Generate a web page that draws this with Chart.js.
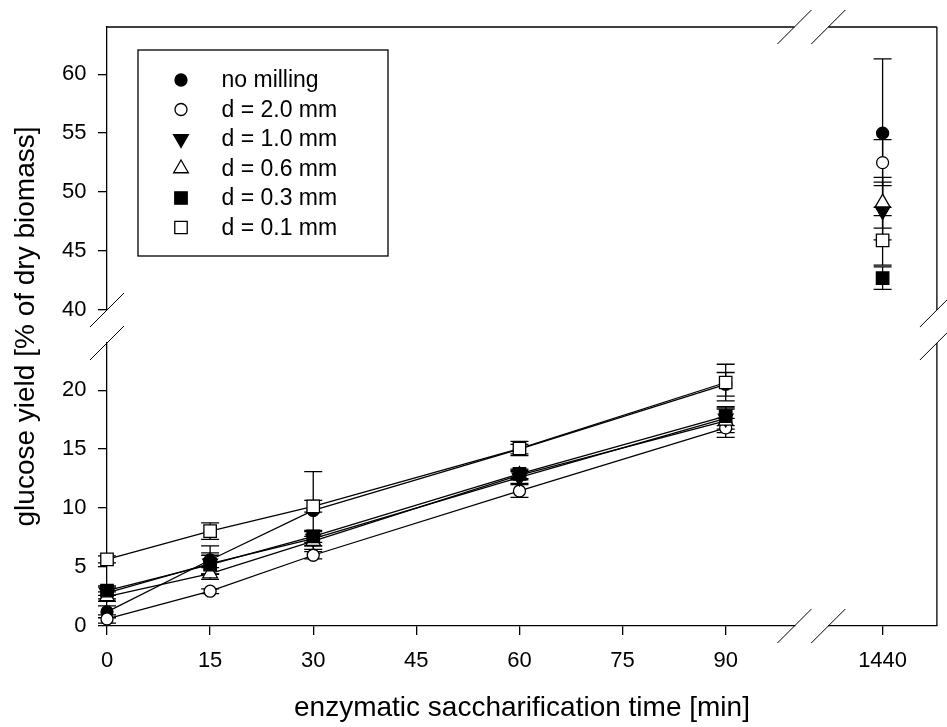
<!DOCTYPE html>
<html>
<head>
<meta charset="utf-8">
<script src="https://cdn.jsdelivr.net/npm/chart.js@4.4.0/dist/chart.umd.min.js"></script>
<style>
  html, body { margin: 0; padding: 0; background: #fff; }
  #wrap { width: 947px; height: 727px; }
</style>
</head>
<body>
<div id="wrap"><canvas id="chart"></canvas></div>
<script>
// sampling times (min) for the short run, plus the 24 h point
const times = [0, 15, 30, 60, 90];
const dayTime = 1440;

const seriesLabels = ["no milling", "d = 2.0 mm", "d = 1.0 mm", "d = 0.6 mm", "d = 0.3 mm", "d = 0.1 mm"];

// glucose yield [% of dry biomass] at 0..90 min and std deviations
const noMilling    = [1.2, 5.6, 9.8, 15.0, 20.5];
const noMillingErr = [0.5, 1.2, 3.3, 0.4, 1.0];
const d20          = [0.6, 2.95, 6.0, 11.45, 16.8];
const d20Err       = [0.35, 0.2, 0.3, 0.55, 0.8];
const d10          = [2.8, 5.3, 7.4, 12.6, 17.6];
const d10Err       = [0.5, 0.9, 0.6, 0.5, 0.9];
const d06          = [2.5, 4.45, 7.2, 12.8, 17.4];
const d06Err       = [0.4, 0.5, 0.4, 0.4, 1.0];
const d03          = [3.0, 5.2, 7.6, 12.9, 17.8];
const d03Err       = [0.4, 0.8, 0.5, 0.4, 0.8];
const d01          = [5.65, 8.05, 10.15, 15.05, 20.65];
const d01Err       = [0.3, 0.7, 0.5, 0.6, 1.55];

// values at 1440 min (same series order)
const dayValues = [55.0, 52.5, 48.4, 49.1, 42.7, 45.9];
const dayErrors = [6.3, 1.95, 2.45, 2.15, 0.95, 2.1];

const timeTicks = [0, 15, 30, 45, 60, 75, 90];
const dayTicks = [1440];
const lowTicks = [0, 5, 10, 15, 20];
const highTicks = [40, 45, 50, 55, 60];

const lowSeries = [noMilling, d20, d10, d06, d03, d01];
const lowErrors = [noMillingErr, d20Err, d10Err, d06Err, d03Err, d01Err];

const markers = [
  { style: "circle", radius: 6, rotation: 0, fill: "#000" },
  { style: "circle", radius: 6, rotation: 0, fill: "#fff" },
  { style: "triangle", radius: 8.5, rotation: 180, fill: "#000" },
  { style: "triangle", radius: 8.5, rotation: 0, fill: "#fff" },
  { style: "rect", radius: 8.8, rotation: 0, fill: "#000" },
  { style: "rect", radius: 8.8, rotation: 0, fill: "#fff" }
];

Chart.defaults.font.family = "'Liberation Sans', Arial, sans-serif";
Chart.defaults.color = "#000";

function markerProps(m) {
  return {
    borderColor: "#000",
    borderWidth: 1.3,
    backgroundColor: m.fill,
    pointStyle: m.style,
    pointRadius: m.radius,
    pointHoverRadius: m.radius,
    pointRotation: m.rotation,
    pointBackgroundColor: m.fill,
    pointBorderColor: "#000",
    pointBorderWidth: 1.3,
    clip: false
  };
}

const datasets = [];
seriesLabels.forEach((label, i) => {
  const order = seriesLabels.length - i;
  datasets.push({
    label,
    order,
    data: times.map((t, j) => ({ x: t, y: lowSeries[i][j] })),
    errors: lowErrors[i],
    xAxisID: "xLow",
    yAxisID: "yLow",
    tension: 0,
    ...markerProps(markers[i])
  });
  datasets.push({
    label,
    order,
    data: [{ x: dayTime, y: dayValues[i] }],
    errors: [dayErrors[i]],
    xAxisID: "xHigh",
    yAxisID: "yHigh",
    showLine: false,
    ...markerProps(markers[i])
  });
});

const errorBars = {
  id: "errorBars",
  beforeDatasetsDraw(chart) {
    const ctx = chart.ctx;
    ctx.save();
    ctx.strokeStyle = "#000";
    ctx.lineWidth = 1.3;
    chart.data.datasets.forEach((ds) => {
      const xs = chart.scales[ds.xAxisID];
      const ys = chart.scales[ds.yAxisID];
      ds.data.forEach((p, i) => {
        const e = ds.errors[i];
        const x = xs.getPixelForValue(p.x);
        const top = ys.getPixelForValue(p.y + e);
        const bot = ys.getPixelForValue(p.y - e);
        ctx.beginPath();
        ctx.moveTo(x, top); ctx.lineTo(x, bot);
        ctx.moveTo(x - 9, top); ctx.lineTo(x + 9, top);
        ctx.moveTo(x - 9, bot); ctx.lineTo(x + 9, bot);
        ctx.stroke();
      });
    });
    ctx.restore();
  }
};

function slash(ctx, x, y) {
  ctx.beginPath();
  ctx.moveTo(x - 17, y + 17);
  ctx.lineTo(x + 17, y - 17);
  ctx.stroke();
}

const frameAndLegend = {
  id: "frameAndLegend",
  afterDraw(chart) {
    const ctx = chart.ctx;
    const area = chart.chartArea;
    const s = chart.scales;
    ctx.save();
    ctx.strokeStyle = "#000";
    ctx.lineWidth = 1.3;

    // top and right frame lines, broken like the axes
    ctx.beginPath();
    ctx.moveTo(s.xLow.left, area.top); ctx.lineTo(s.xLow.right, area.top);
    ctx.moveTo(s.xHigh.left, area.top); ctx.lineTo(s.xHigh.right, area.top);
    ctx.moveTo(area.right, s.yHigh.top); ctx.lineTo(area.right, s.yHigh.bottom);
    ctx.moveTo(area.right, s.yLow.top); ctx.lineTo(area.right, s.yLow.bottom);
    ctx.stroke();

    ctx.lineWidth = 1;
    [s.xLow.right, s.xHigh.left].forEach((x) => {
      slash(ctx, x, area.top);
      slash(ctx, x, area.bottom);
    });
    [s.yHigh.bottom, s.yLow.top].forEach((y) => {
      slash(ctx, area.left, y);
      slash(ctx, area.right, y);
    });

    // legend box
    ctx.lineWidth = 1.3;
    ctx.strokeRect(138, 50, 250, 206);
    ctx.font = "23px 'Liberation Sans', Arial, sans-serif";
    ctx.textBaseline = "middle";
    ctx.textAlign = "left";
    seriesLabels.forEach((label, i) => {
      const y = 80 + i * 29.5;
      const m = markers[i];
      ctx.fillStyle = m.fill;
      ctx.strokeStyle = "#000";
      ctx.lineWidth = 1.3;
      Chart.helpers.drawPoint(ctx, {
        pointStyle: m.style, radius: m.radius, rotation: m.rotation, borderWidth: 1.3
      }, 181, y);
      ctx.fillStyle = "#000";
      ctx.fillText(label, 221.5, y + 1);
    });
    ctx.restore();
  }
};

function fixedTicks(list) {
  return (scale) => { scale.ticks = list.map((v) => ({ value: v })); };
}

function fitBox(size) {
  return (sc) => {
    if (sc.isHorizontal()) sc.height = size; else sc.width = size;
    sc.paddingLeft = 0; sc.paddingRight = 0; sc.paddingTop = 0; sc.paddingBottom = 0;
  };
}

const tickGrid = { display: true, drawOnChartArea: false, drawTicks: true, tickLength: 9, color: "#000", tickColor: "#000", lineWidth: 1.3 };
const axisBorder = { display: true, color: "#000", width: 1.3 };
const xTickOpts = { font: { size: 22 }, padding: 12.6, autoSkip: false, maxRotation: 0, minRotation: 0, callback: (v) => String(v) };
const yTickOpts = { font: { size: 22 }, padding: 11.5, autoSkip: false };
const hiddenAxis = {
  type: "linear",
  grid: { display: false, drawTicks: false },
  border: { display: false },
  ticks: { display: false }
};

new Chart(document.getElementById("chart"), {
  type: "line",
  data: { datasets },
  options: {
    responsive: true,
    maintainAspectRatio: false,
    animation: false,
    layout: { padding: { top: 27, right: 7, left: 0, bottom: 0 } },
    plugins: { legend: { display: false }, tooltip: { enabled: false } },
    scales: {
      xLow: {
        type: "linear", position: "bottom", stack: "x", stackWeight: 690, weight: 0.1,
        min: 0, max: 100,
        grid: tickGrid, border: axisBorder, ticks: xTickOpts,
        afterBuildTicks: fixedTicks(timeTicks),
        afterFit: fitBox(60)
      },
      xGap: {
        ...hiddenAxis, position: "bottom", stack: "x", stackWeight: 34, weight: 0.2,
        afterFit: fitBox(60)
      },
      xHigh: {
        type: "linear", position: "bottom", stack: "x", stackWeight: 109, weight: 0.3,
        min: 1432, max: 1448,
        grid: tickGrid, border: axisBorder, ticks: xTickOpts,
        afterBuildTicks: fixedTicks(dayTicks),
        afterFit: fitBox(60)
      },
      xTitle: {
        ...hiddenAxis, position: "bottom", weight: 1,
        title: { display: true, text: "enzymatic saccharification time [min]", font: { size: 28 }, padding: { top: 0, bottom: 2.3 } },
        afterFit: fitBox(41)
      },
      yLow: {
        type: "linear", position: "left", stack: "y", stackWeight: 283, weight: 0.1,
        min: 0, max: 24,
        grid: tickGrid, border: axisBorder, ticks: yTickOpts,
        afterBuildTicks: fixedTicks(lowTicks),
        afterFit: fitBox(57)
      },
      yGap: {
        ...hiddenAxis, position: "left", stack: "y", stackWeight: 33, weight: 0.2,
        afterFit: fitBox(57)
      },
      yHigh: {
        type: "linear", position: "left", stack: "y", stackWeight: 283, weight: 0.3,
        min: 40, max: 64,
        grid: tickGrid, border: axisBorder, ticks: yTickOpts,
        afterBuildTicks: fixedTicks(highTicks),
        afterFit: fitBox(57)
      },
      yTitle: {
        ...hiddenAxis, position: "left", weight: 1,
        title: { display: true, text: "glucose yield [% of dry biomass]", font: { size: 28 }, padding: { top: 9, bottom: 0 } },
        afterFit: fitBox(50)
      }
    }
  },
  plugins: [errorBars, frameAndLegend]
});
</script>
</body>
</html>
